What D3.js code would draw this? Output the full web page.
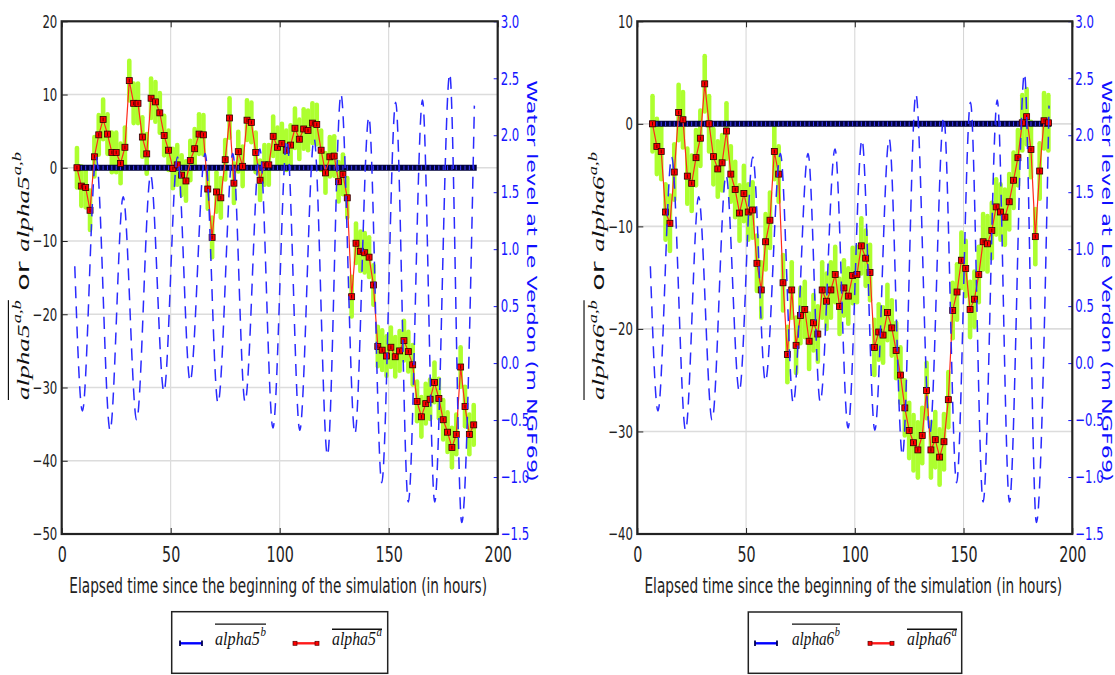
<!DOCTYPE html>
<html><head><meta charset="utf-8">
<script src="https://cdn.jsdelivr.net/npm/d3@7"></script>
<style>body{margin:0;background:#fff;}svg{display:block;}</style>
</head><body>
<svg id="chart" width="1115" height="675"></svg>
<script>
// ---------------- data ----------------
const timeHours = [7,9,11,13,15,17,19,21,23,25,27,29,31,33,35,37,39,41,43,45,47,49,51,53,55,57,59,61,63,65,67,69,71,73,75,77,79,81,83,85,87,89,91,93,95,97,99,101,103,105,107,109,111,113,115,117,119,121,123,125,127,129,131,133,135,137,139,141,143,145,147,149,151,153,155,157,159,161,163,165,167,169,171,173,175,177,179,181,183,185,187,189];
const alpha5a = [0,-2.5,-2.7,-5.8,1.5,4.5,6.6,4.6,2.1,2.1,
  0.6,2.8,11.9,8.8,8.8,4.2,1.9,9.5,9.0,7.5,
  4.4,2.4,-0.1,0.4,-1.0,-1.8,1.0,2.6,4.6,4.5,
  -2.9,-9.5,-3.3,-4.1,1.1,6.8,-2.1,2.2,0.2,6.5,
  6.2,2.1,-1.7,0.4,0.4,4.3,2.8,3.3,2.4,3.1,
  5.4,3.9,5.3,5.1,6.1,5.9,2.4,-0.7,1.5,1.6,
  -1.9,-0.9,-4.1,-17.6,-10.3,-11.4,-11.6,-12.2,-16.0,-24.4,
  -24.9,-25.7,-24.5,-25.8,-25.0,-23.6,-25.1,-26.9,-31.9,-34.0,
  -32.2,-31.6,-29.3,-31.5,-34.4,-36.1,-38.2,-36.4,-27.2,-32.6,
  -36.4,-35.1];
const alpha6a = [0,-2.2,-2.7,-8.6,-9.7,-4.7,1.1,0.4,-5.1,-5.8,
  -3.3,-1.4,3.9,0,-3.2,-4.4,-3.8,-0.7,-4.9,-6.4,
  -8.7,-6.8,-8.6,-8.4,-13.6,-16.2,-11.5,-9.4,-2.7,-4.9,
  -15.5,-22.5,-16.2,-21.6,-18.7,-18.1,-21.2,-19.4,-20.5,-16.2,
  -17.3,-16.2,-14.7,-17.8,-16.0,-16.8,-14.8,-14.7,-11.9,-13.1,
  -14.5,-21.8,-20.3,-20.6,-18.4,-19.9,-22.1,-24.5,-27.7,-29.9,
  -31.1,-31.8,-30.4,-26.0,-31.8,-30.8,-32.5,-31.0,-26.9,-18.2,
  -16.4,-13.3,-14.1,-18.1,-17.1,-14.7,-11.5,-11.7,-10.4,-8.1,
  -8.6,-9.1,-7.6,-5.5,-3.3,0.1,0.7,-2.5,-11.0,-4.6,
  0.3,0.1];
const alpha5b = [0,0,0,0,0,0,0,0,0,0,0,0,0,0,0,0,0,0,0,0,0,0,0,0,0,0,0,0,0,0,0,0,0,0,0,0,0,0,0,0,0,0,0,0,0,0,0,0,0,0,0,0,0,0,0,0,0,0,0,0,0,0,0,0,0,0,0,0,0,0,0,0,0,0,0,0,0,0,0,0,0,0,0,0,0,0,0,0,0,0,0,0];
const alpha6b = [0,0,0,0,0,0,0,0,0,0,0,0,0,0,0,0,0,0,0,0,0,0,0,0,0,0,0,0,0,0,0,0,0,0,0,0,0,0,0,0,0,0,0,0,0,0,0,0,0,0,0,0,0,0,0,0,0,0,0,0,0,0,0,0,0,0,0,0,0,0,0,0,0,0,0,0,0,0,0,0,0,0,0,0,0,0,0,0,0,0,0,0];
const errHalf = 2.7;
// water level at Le Verdon: successive low / high water (time in h, level in m NGF69)
const tideTimes  = [6, 9.5, 15.8, 22.2, 28.2, 34.4, 40.8, 46.9, 53.1, 58.9, 65.8, 71.7, 78.5, 84.1, 90.9, 96.9, 103.3, 109.2, 115.8, 121.9, 128.1, 134.5, 140.9, 146.8, 153.2, 159.0, 165.5, 171.1, 178.0, 183.5, 189.3];
const tideLevels = [0.85, -0.42, 1.81, -0.59, 1.46, -0.50, 1.65, -0.25, 1.81, -0.16, 1.84, -0.35, 1.84, -0.34, 1.88, -0.57, 1.96, -0.59, 1.97, -0.81, 2.36, -0.62, 2.16, -1.05, 2.29, -1.22, 2.31, -1.22, 2.54, -1.40, 2.26];
const xTicks = [0, 50, 100, 150, 200];
const yTicks5 = [-50, -40, -30, -20, -10, 0, 10, 20];
const yTicks6 = [-40, -30, -20, -10, 0, 10];
const levelTicks = [-1.5, -1.0, -0.5, 0.0, 0.5, 1.0, 1.5, 2.0, 2.5, 3.0];
const xLabel = "Elapsed time since the beginning of the simulation (in hours)";
const levelLabel = "Water level at Le Verdon (m NGF69)";

// ---------------- drawing ----------------
const svg = d3.select('#chart');
const SX = 0.65;
const SANS = "'DejaVu Sans', sans-serif";
const SERIF = "'Liberation Serif', 'DejaVu Serif', serif";
const fmtTick = d => d < 0 ? '\u2212' + Math.abs(d) : String(d);
const fmtLevel = d => (d < 0 ? '\u2212' : '') + Math.abs(d).toFixed(1);

function mathTerm(g, x, base, sup, F, over, overY) {
  const t1 = g.append('text').attr('x', x).attr('y', 0)
    .attr('font-family', SERIF).attr('font-style', 'italic').attr('font-size', F).attr('fill', '#111').text(base);
  const w1 = t1.node().getComputedTextLength();
  const t2 = g.append('text').attr('x', x + w1 + 0.04 * F).attr('y', -0.45 * F)
    .attr('font-family', SERIF).attr('font-style', 'italic').attr('font-size', 0.68 * F).attr('fill', '#111').text(sup);
  const end = x + w1 + 0.04 * F + t2.node().getComputedTextLength();
  if (over) g.append('line').attr('x1', x).attr('x2', end).attr('y1', overY).attr('y2', overY)
    .attr('stroke', '#111').attr('stroke-width', 0.07 * F);
  return end;
}

const panels = [
  {x0: 61.7, x1: 497.7, yDomain: [-50, 20], yTicks: yTicks5, a: alpha5a, b: alpha5b, n: '5',
   legend: {x: 171.7, y: 611.7, w: 216, h: 61.6, s1: 180, t1: 215, t1w: 51, s2: 295, t2: 332, t2w: 50}},
  {x0: 637.3, x1: 1072.3, yDomain: [-40, 10], yTicks: yTicks6, a: alpha6a, b: alpha6b, n: '6',
   legend: {x: 748.3, y: 612, w: 213.4, h: 61.3, s1: 755, t1: 792, t1w: 48, s2: 870, t2: 907, t2w: 50}}
];
const Y0 = 21.3, Y1 = 534;

panels.forEach(p => {
  const x = d3.scaleLinear().domain([0, 200]).range([p.x0, p.x1]);
  const y = d3.scaleLinear().domain(p.yDomain).range([Y1, Y0]);
  const yL = d3.scaleLinear().domain([-1.5, 3.0]).range([Y1, Y0]);
  const g = svg.append('g');

  // grid
  g.append('g').selectAll('line').data(xTicks.slice(1, -1)).join('line')
    .attr('x1', d => x(d)).attr('x2', d => x(d)).attr('y1', Y0).attr('y2', Y1)
    .attr('stroke', '#d4d4d4').attr('stroke-width', 1);
  g.append('g').selectAll('line').data(p.yTicks.slice(1, -1)).join('line')
    .attr('x1', p.x0).attr('x2', p.x1).attr('y1', d => y(d)).attr('y2', d => y(d))
    .attr('stroke', '#dcdcdc').attr('stroke-width', 1.6);

  const pts = timeHours.map((t, i) => ({t, a: p.a[i], b: p.b[i]}));

  // green error bars
  g.append('g').selectAll('line').data(pts).join('line')
    .attr('x1', d => x(d.t)).attr('x2', d => x(d.t))
    .attr('y1', d => y(d.a - errHalf)).attr('y2', d => y(d.a + errHalf))
    .attr('stroke', '#adff2f').attr('stroke-width', 4.6).attr('stroke-linecap', 'round');

  // b series (constant) band
  g.append('path').datum(pts)
    .attr('d', d3.line().x(d => x(d.t)).y(d => y(d.b)))
    .attr('fill', 'none').attr('stroke', '#00003c').attr('stroke-width', 6)
    .attr('stroke-linecap', 'square');
  g.append('g').selectAll('line').data(pts).join('line')
    .attr('x1', d => x(d.t)).attr('x2', d => x(d.t))
    .attr('y1', d => y(d.b) - 2.2).attr('y2', d => y(d.b) + 2.2)
    .attr('stroke', '#3c3cff').attr('stroke-width', 1);

  // a series line + markers
  g.append('path').datum(pts)
    .attr('d', d3.line().x(d => x(d.t)).y(d => y(d.a)))
    .attr('fill', 'none').attr('stroke', '#ff2a1a').attr('stroke-width', 1.2);
  const mk = g.append('g').selectAll('g').data(pts).join('g')
    .attr('transform', d => `translate(${x(d.t)},${y(d.a)})`);
  mk.append('rect').attr('x', -3).attr('y', -3).attr('width', 6).attr('height', 6)
    .attr('fill', '#ff0000').attr('stroke', '#2a0000').attr('stroke-width', 0.8);
  mk.append('line').attr('x1', 0).attr('x2', 0).attr('y1', -1.8).attr('y2', 1.8)
    .attr('stroke', '#300000').attr('stroke-width', 0.8);

  // water level (twin axis)
  g.append('path').datum(tideTimes.map((t, i) => ({t, v: tideLevels[i]})))
    .attr('d', d3.line().x(d => x(d.t)).y(d => yL(d.v)).curve(d3.curveMonotoneX))
    .attr('fill', 'none').attr('stroke', '#2a2aff').attr('stroke-width', 1.5)
    .attr('stroke-dasharray', '12,8');

  // axes
  const ax = g.append('g').attr('transform', `translate(0,${Y1})`)
    .call(d3.axisBottom(x).tickValues(xTicks).tickSizeInner(-6).tickSizeOuter(0).tickPadding(12));
  ax.selectAll('text').attr('font-size', 22).attr('font-family', SANS).attr('fill', '#222')
    .attr('transform', `scale(${SX},1)`);
  const at = g.append('g').attr('transform', `translate(0,${Y0})`)
    .call(d3.axisTop(x).tickValues(xTicks).tickSizeInner(-6).tickSizeOuter(0).tickFormat(''));
  const ay = g.append('g').attr('transform', `translate(${p.x0},0)`)
    .call(d3.axisLeft(y).tickValues(p.yTicks).tickFormat(fmtTick).tickSizeInner(-6).tickSizeOuter(0).tickPadding(6.8));
  ay.selectAll('text').attr('font-size', 18).attr('font-family', SANS).attr('fill', '#222')
    .attr('transform', `scale(${SX},1)`);
  const ar = g.append('g').attr('transform', `translate(${p.x1},0)`)
    .call(d3.axisRight(yL).tickValues(levelTicks).tickFormat(fmtLevel).tickSizeInner(-4).tickSizeOuter(0).tickPadding(4.6));
  ar.selectAll('text').attr('font-size', 18).attr('font-family', SANS).attr('fill', '#1515ff')
    .attr('transform', `scale(${SX},1)`);
  ar.selectAll('line').attr('stroke', '#1515ff');
  [ax, at, ay, ar].forEach(a => a.select('.domain').remove());
  [ax, at, ay].forEach(a => a.selectAll('line').attr('stroke', '#222').attr('stroke-width', 1));

  // frame
  g.append('rect').attr('x', p.x0).attr('y', Y0).attr('width', p.x1 - p.x0).attr('height', Y1 - Y0)
    .attr('fill', 'none').attr('stroke', '#222').attr('stroke-width', 2.2);

  // x label
  const xl = g.append('g');
  const xlt = xl.append('text').attr('font-family', SANS).attr('font-size', 21).attr('fill', '#222')
    .attr('text-anchor', 'middle').text(xLabel);
  const xlw = xlt.node().getComputedTextLength();
  xl.attr('transform', `translate(${(p.x0 + p.x1) / 2 - 1.5},593) scale(${418 / xlw},1)`);

  // right label
  const rl = g.append('g');
  const rlt = rl.append('text').attr('font-family', SANS).attr('font-size', 22).attr('fill', '#1010ff')
    .attr('text-anchor', 'middle').text(levelLabel);
  const rlw = rlt.node().getComputedTextLength();
  rl.attr('transform', `translate(${p.x1 + 29.5},281) scale(${SX},1) rotate(90) scale(${402 / rlw},1)`);

  // left label (math text)
  const yl = g.append('g');
  const inner = yl.append('g');
  const F = 26;
  let e = mathTerm(inner, 0, 'alpha' + p.n, 'a,b', F, true, -1.2 * F);
  const orT = inner.append('text').attr('x', e + 0.35 * F).attr('y', 0).attr('font-family', SANS)
    .attr('font-size', 1.05 * F).attr('fill', '#111').text('or');
  e = e + 0.35 * F + orT.node().getComputedTextLength() + 0.35 * F;
  e = mathTerm(inner, e, 'alpha' + p.n, 'a,b', F, false, 0);
  const totalLen = 248;
  inner.attr('transform', `scale(${totalLen / e},1) translate(${-e / 2},0)`);
  yl.attr('transform', `translate(${p.x0 - 33},276) scale(${SX},1) rotate(-90)`);

  // legend
  const L = p.legend;
  const lg = g.append('g');
  lg.append('rect').attr('x', L.x).attr('y', L.y).attr('width', L.w).attr('height', L.h)
    .attr('fill', '#fff').attr('stroke', '#222').attr('stroke-width', 1.5);
  const ly = 643.3;
  lg.append('line').attr('x1', L.s1).attr('x2', L.s1 + 22).attr('y1', ly).attr('y2', ly)
    .attr('stroke', '#0000ff').attr('stroke-width', 2.4);
  [L.s1, L.s1 + 22].forEach(cx => lg.append('line').attr('x1', cx).attr('x2', cx)
    .attr('y1', ly - 2.8).attr('y2', ly + 2.8).attr('stroke', '#000050').attr('stroke-width', 1.8));
  lg.append('line').attr('x1', L.s2).attr('x2', L.s2 + 22).attr('y1', ly).attr('y2', ly)
    .attr('stroke', '#ff1a1a').attr('stroke-width', 2.4);
  [L.s2, L.s2 + 22].forEach(cx => lg.append('rect').attr('x', cx - 2).attr('y', ly - 2)
    .attr('width', 4).attr('height', 4).attr('fill', '#ff0000').attr('stroke', '#500000').attr('stroke-width', 0.7));
  const FL = 19;
  const lt1 = lg.append('g');
  const i1 = lt1.append('g');
  const e1 = mathTerm(i1, 0, 'alpha' + p.n, 'b', FL, true, -1.1 * FL);
  lt1.attr('transform', `translate(${L.t1},645) scale(${L.t1w / e1},1)`);
  const lt2 = lg.append('g');
  const i2 = lt2.append('g');
  const e2 = mathTerm(i2, 0, 'alpha' + p.n, 'a', FL, true, -0.83 * FL);
  lt2.attr('transform', `translate(${L.t2},645) scale(${L.t2w / e2},1)`);
});
</script>
</body></html>
